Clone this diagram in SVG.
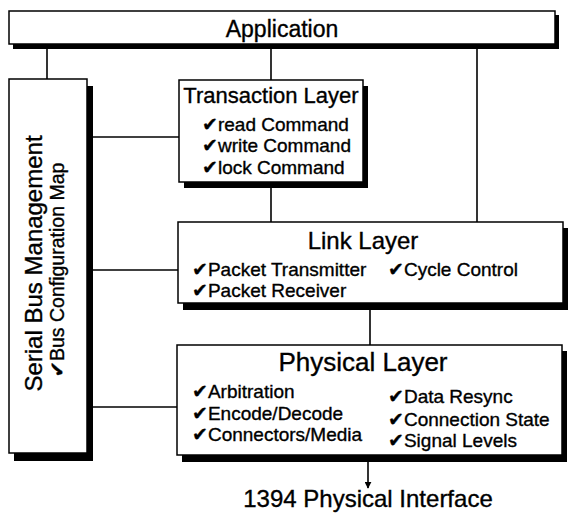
<svg xmlns="http://www.w3.org/2000/svg" width="570" height="514" viewBox="0 0 570 514">
<defs>
<style>
.box{fill:#fff;stroke:#000;stroke-width:1.5}
.sh{fill:#000}
.ln{stroke:#000;stroke-width:1.6;fill:none}
text{font-family:"Liberation Sans",Arial,sans-serif;fill:#000;stroke:#000;stroke-width:0.35}
.t{font-size:23px;text-anchor:middle}
.i{font-size:19px}
.ck{font-family:"DejaVu Sans",sans-serif}
</style>
<marker id="ah" viewBox="0 0 10 10" refX="9" refY="5" markerWidth="7" markerHeight="7" orient="auto" markerUnits="userSpaceOnUse">
<path d="M0,0 L10,5 L0,10 Z" fill="#000"/>
</marker>
</defs>
<rect width="570" height="514" fill="#fff"/>
<g id="connectors">
<line class="ln" x1="47" y1="44" x2="47" y2="79"/>
<line class="ln" x1="271" y1="44" x2="271" y2="80"/>
<line class="ln" x1="477" y1="44" x2="477" y2="222"/>
<line class="ln" x1="271" y1="182" x2="271" y2="222"/>
<line class="ln" x1="370" y1="303" x2="370" y2="345"/>
<line class="ln" x1="87" y1="137" x2="179" y2="137"/>
<line class="ln" x1="87" y1="270" x2="178" y2="270"/>
<line class="ln" x1="87" y1="407" x2="177" y2="407"/>
<line class="ln" x1="368" y1="455" x2="368" y2="488" marker-end="url(#ah)"/>
</g>
<g id="application">
<rect class="sh" x="13" y="15" width="546" height="34"/>
<rect class="box" x="9" y="11" width="546" height="33"/>
<text class="t" x="282" y="37">Application</text>
</g>
<g id="serial-bus-management">
<rect class="sh" x="14" y="86" width="79" height="375"/>
<rect class="box" x="9" y="79" width="78" height="374"/>
<text transform="translate(42,263.5) rotate(-90)" style="font-size:24px;text-anchor:middle">Serial Bus Management</text>
<text transform="translate(64,270) rotate(-90)" style="font-size:19.5px;text-anchor:middle"><tspan class="ck">✔</tspan>Bus Configuration Map</text>
</g>
<g id="transaction-layer">
<rect class="sh" x="184" y="86" width="184" height="102"/>
<rect class="box" x="179" y="80" width="184" height="102"/>
<text x="271" y="103" style="font-size:22px;text-anchor:middle">Transaction Layer</text>
<text class="i" x="202" y="131"><tspan class="ck">✔</tspan>read Command</text>
<text class="i" x="202" y="152"><tspan class="ck">✔</tspan>write Command</text>
<text class="i" x="202" y="174"><tspan class="ck">✔</tspan>lock Command</text>
</g>
<g id="link-layer">
<rect class="sh" x="183" y="228" width="385" height="82"/>
<rect class="box" x="178" y="222" width="385" height="81"/>
<text x="363" y="249" style="font-size:24px;text-anchor:middle">Link Layer</text>
<text class="i" x="192" y="276"><tspan class="ck">✔</tspan>Packet Transmitter</text>
<text class="i" x="388" y="276"><tspan class="ck">✔</tspan>Cycle Control</text>
<text class="i" x="192" y="297"><tspan class="ck">✔</tspan>Packet Receiver</text>
</g>
<g id="physical-layer">
<rect class="sh" x="182" y="351" width="385" height="111"/>
<rect class="box" x="177" y="345" width="385" height="110"/>
<text x="363" y="371" style="font-size:26px;text-anchor:middle">Physical Layer</text>
<text class="i" x="192" y="398"><tspan class="ck">✔</tspan>Arbitration</text>
<text class="i" x="192" y="420"><tspan class="ck">✔</tspan>Encode/Decode</text>
<text class="i" x="192" y="441"><tspan class="ck">✔</tspan>Connectors/Media</text>
<text class="i" x="388" y="403"><tspan class="ck">✔</tspan>Data Resync</text>
<text class="i" x="388" y="426"><tspan class="ck">✔</tspan>Connection State</text>
<text class="i" x="388" y="447"><tspan class="ck">✔</tspan>Signal Levels</text>
</g>
<g id="interface-label">
<text x="368" y="507" style="font-size:24px;text-anchor:middle">1394 Physical Interface</text>
</g>
</svg>
